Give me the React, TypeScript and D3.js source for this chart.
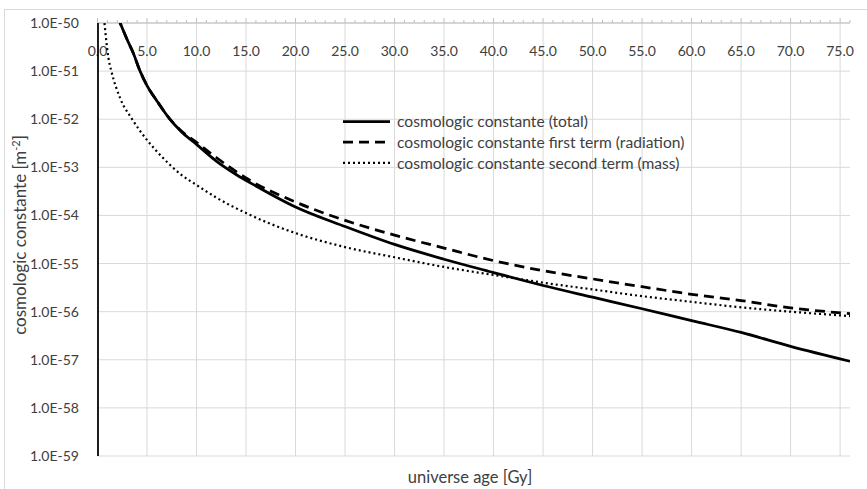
import React from "react";
import * as d3 from "d3";

// Universe age [Gy] and cosmologic constant [m^-2] for each series
const totalAge = [2.0, 3.0, 3.6, 4.3, 5, 6, 7.3, 8.5, 10, 12, 14, 16, 20, 25, 30, 35, 40, 45, 50, 55, 60, 65, 70, 76];
const totalValue = [
  1.4e-50, 4.5e-51, 2.4e-51, 1.0e-51, 5.0e-52, 2.4e-52, 1.0e-52, 5.4e-53, 3.0e-53, 1.35e-53, 7.1e-54, 4.1e-54,
  1.5e-54, 5.9e-55, 2.5e-55, 1.23e-55, 6.5e-56, 3.5e-56, 2.0e-56, 1.15e-56, 6.5e-57, 3.7e-57, 1.9e-57, 9.3e-58,
];

const radiationAge = [2.0, 3.0, 3.6, 4.3, 5, 6, 7.3, 8.5, 10, 12, 15, 20, 25, 30, 35, 40, 45, 50, 55, 60, 65, 70, 76];
const radiationValue = [
  1.4e-50, 4.5e-51, 2.4e-51, 1.0e-51, 5.0e-52, 2.4e-52, 1.02e-52, 5.6e-53, 3.3e-53, 1.6e-53, 6.0e-54, 1.9e-54,
  7.9e-55, 3.9e-55, 2.1e-55, 1.15e-55, 7.1e-56, 4.8e-56, 3.3e-56, 2.3e-56, 1.7e-56, 1.2e-56, 9.1e-57,
];

const massAge = [0.6, 0.7, 1.1, 1.4, 2.3, 3.5, 5, 6.5, 8.5, 10, 12, 15, 20, 25, 30, 35, 40, 45, 50, 55, 60, 65, 70, 76];
const massValue = [
  1.6e-50, 1.0e-50, 1.9e-51, 1.0e-51, 2.7e-52, 1.0e-52, 3.7e-53, 1.66e-53, 6.9e-54, 4.3e-54, 2.35e-54, 1.12e-54,
  4.3e-55, 2.2e-55, 1.35e-55, 8.5e-56, 5.8e-56, 4.0e-56, 2.9e-56, 2.1e-56, 1.6e-56, 1.23e-56, 1.0e-56, 8.1e-57,
];

const seriesNames = [
  "cosmologic constante (total)",
  "cosmologic constante first term (radiation)",
  "cosmologic constante second term (mass)",
];

const xMajorTicks = [0, 5, 10, 15, 20, 25, 30, 35, 40, 45, 50, 55, 60, 65, 70, 75];
const yExponents = [-50, -51, -52, -53, -54, -55, -56, -57, -58, -59];

const W = 867;
const H = 489;
const FONT = "Lato, 'Open Sans', sans-serif";
const TEXT = "#404040";
const GRID = "#d9d9d9";

export default function App() {
  const x = d3.scaleLinear().domain([0, 76]).range([97.5, 850]);
  const y = d3.scaleLog().domain([1e-50, 1e-59]).range([23, 456]);

  const line = d3
    .line<[number, number]>()
    .x((d) => x(d[0]))
    .y((d) => y(d[1]))
    .curve(d3.curveMonotoneX);

  const zip = (a: number[], b: number[]) => a.map((v, i) => [v, b[i]] as [number, number]);

  const styles = [
    { width: 2.75, dash: undefined as string | undefined },
    { width: 2.75, dash: "10,6" },
    { width: 2.2, dash: "2,3" },
  ];
  const data = [zip(totalAge, totalValue), zip(radiationAge, radiationValue), zip(massAge, massValue)];

  const [x0, x1] = x.range();
  const [yTop, yBot] = y.range();
  const minorTicks = d3.range(0, 77, 1);

  return (
    <svg width={W} height={H} style={{ position: "absolute", left: 0, top: 0, background: "#fff" }} fontFamily={FONT}>
      <defs>
        <clipPath id="plot-clip">
          <rect x={x0} y={yTop} width={x1 - x0} height={yBot - yTop} />
        </clipPath>
      </defs>
      <rect x={4.5} y={9.5} width={W + 10} height={H + 10} fill="#fff" stroke={GRID} />

      {/* grid */}
      {yExponents.map((e) => (
        <line key={"h" + e} x1={x0} x2={x1} y1={y(Math.pow(10, e))} y2={y(Math.pow(10, e))} stroke={GRID} strokeWidth={1} />
      ))}
      {xMajorTicks.map((t) => (
        <line key={"v" + t} x1={x(t)} x2={x(t)} y1={yTop} y2={yBot} stroke={GRID} strokeWidth={1} />
      ))}

      {/* horizontal axis at the top */}
      <line x1={x0} x2={x1} y1={yTop} y2={yTop} stroke="#bfbfbf" strokeWidth={1} />
      {minorTicks.map((t) => (
        <line key={"m" + t} x1={x(t)} x2={x(t)} y1={yTop - (t % 5 === 0 ? 5 : 3)} y2={yTop} stroke="#bfbfbf" strokeWidth={1} />
      ))}
      {xMajorTicks.map((t) => (
        <text key={"xl" + t} x={x(t)} y={56} textAnchor="middle" fontSize={14} fill={TEXT}>
          {t.toFixed(1)}
        </text>
      ))}

      {/* vertical axis */}
      {yExponents.map((e) => (
        <text key={"yl" + e} x={79} y={y(Math.pow(10, e))} dy="0.36em" textAnchor="end" fontSize={14} fill={TEXT}>
          {"1.0E" + e}
        </text>
      ))}

      {/* series */}
      <g clipPath="url(#plot-clip)">
        {data.map((d, i) => (
          <path
            key={"s" + i}
            d={line(d) || ""}
            fill="none"
            stroke="#000"
            strokeWidth={styles[i].width}
            strokeDasharray={styles[i].dash}
          />
        ))}
      </g>
      <line x1={98} x2={98} y1={yTop} y2={yBot} stroke="#000" strokeWidth={1.75} />

      {/* legend */}
      {seriesNames.map((name, i) => {
        const ly = 121.5 + i * 20.7;
        return (
          <g key={"lg" + i}>
            <line
              x1={343}
              x2={390}
              y1={ly}
              y2={ly}
              stroke="#000"
              strokeWidth={styles[i].width}
              strokeDasharray={styles[i].dash}
            />
            <text x={397} y={ly} dy="0.36em" fontSize={15.6} fill={TEXT}>
              {name}
            </text>
          </g>
        );
      })}

      {/* axis titles */}
      <text x={470} y={483} textAnchor="middle" fontSize={16.5} fill={TEXT}>
        universe age [Gy]
      </text>
      <text transform={`translate(26,235) rotate(-90)`} textAnchor="middle" fontSize={17} fill={TEXT}>
        cosmologic constante [m
        <tspan dy={-6} fontSize={11}>
          -2
        </tspan>
        <tspan dy={6}>]</tspan>
      </text>
    </svg>
  );
}
